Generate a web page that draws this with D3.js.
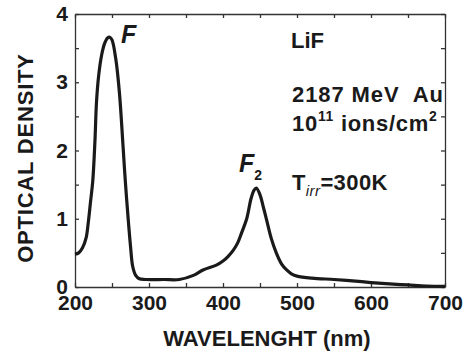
<!DOCTYPE html>
<html>
<head>
<meta charset="utf-8">
<script src="https://cdnjs.cloudflare.com/ajax/libs/d3/7.8.5/d3.min.js"></script>
<style>
  body { margin: 0; background: #fff; }
  text { font-family: "Liberation Sans", Arial, sans-serif; font-weight: bold; fill: #1a1a1a; }
</style>
</head>
<body>
<div id="chart"></div>
<script>
var width = 471;
var height = 356;

// absorption spectrum
var wavelength = [200, 205, 210, 215, 218, 221, 224, 227, 229, 232, 236, 240, 244, 247,
                  250, 255, 260, 265, 268, 272, 275, 278, 282, 287, 295, 320, 341,
                  360, 373, 391, 400, 407, 414, 420, 425, 432, 438, 442, 445, 450,
                  455, 459, 465, 472, 479, 486, 493, 500, 520, 550, 575, 600, 625,
                  650, 675, 700];
var density = [0.48, 0.50, 0.57, 0.72, 0.95, 1.25, 1.55, 2.15, 2.70, 3.10, 3.40, 3.57, 3.65, 3.66,
               3.62, 3.35, 2.85, 2.05, 1.55, 0.98, 0.60, 0.30, 0.17, 0.12, 0.11, 0.11, 0.11,
               0.17, 0.25, 0.32, 0.38, 0.45, 0.54, 0.65, 0.79, 1.00, 1.30, 1.42, 1.45, 1.35,
               1.15, 0.98, 0.72, 0.50, 0.34, 0.25, 0.19, 0.16, 0.13, 0.11, 0.09, 0.065, 0.045,
               0.03, 0.015, 0.01];

var xTicks = [200, 250, 300, 350, 400, 450, 500, 550, 600, 650, 700];
var yTicks = [0, 0.5, 1, 1.5, 2, 2.5, 3, 3.5, 4];

var plotLeft = 75, plotRight = 445, plotTop = 14, plotBottom = 287;

var xScale = d3.scaleLinear().domain([200, 700]).range([plotLeft, plotRight]);
var yScale = d3.scaleLinear().domain([0, 4]).range([plotBottom, plotTop]);

var svg = d3.select("#chart")
    .append("svg")
    .attr("width", width)
    .attr("height", height);

function styleAxis(g) {
    g.selectAll("path, line").attr("stroke", "#333").attr("stroke-width", 1.3);
    g.selectAll("text").attr("font-size", "21px").attr("fill", "#1a1a1a")
        .style("font-family", '"Liberation Sans", Arial, sans-serif').style("font-weight", "bold");
}

// bottom axis with labels at every 100 nm
svg.append("g")
    .attr("transform", "translate(0," + plotBottom + ")")
    .call(d3.axisBottom(xScale).tickValues(xTicks).tickSizeInner(-4).tickSizeOuter(0).tickPadding(8)
        .tickFormat(function(d) { return d % 100 === 0 ? d : ""; }))
    .call(styleAxis);

svg.append("g")
    .attr("transform", "translate(0," + plotTop + ")")
    .call(d3.axisTop(xScale).tickValues(xTicks).tickSizeInner(-4).tickSizeOuter(0).tickFormat(""))
    .call(styleAxis);

svg.append("g")
    .attr("transform", "translate(" + plotLeft + ",0)")
    .call(d3.axisLeft(yScale).tickValues(yTicks).tickSizeInner(-4).tickSizeOuter(0).tickPadding(7)
        .tickFormat(function(d) { return d % 1 === 0 ? d : ""; }))
    .call(styleAxis);

svg.append("g")
    .attr("transform", "translate(" + plotRight + ",0)")
    .call(d3.axisRight(yScale).tickValues(yTicks).tickSizeInner(-4).tickSizeOuter(0).tickFormat(""))
    .call(styleAxis);

// spectrum
var points = wavelength.map(function(w, i) { return [w, density[i]]; });
var line = d3.line()
    .x(function(d) { return xScale(d[0]); })
    .y(function(d) { return yScale(d[1]); })
    .curve(d3.curveCatmullRom.alpha(0.5));

svg.append("path")
    .datum(points)
    .attr("d", line)
    .attr("fill", "none")
    .attr("stroke", "#1a1a1a")
    .attr("stroke-width", 3.2)
    .attr("stroke-linejoin", "round");

// axis titles
svg.append("text")
    .attr("transform", "translate(33,158) rotate(-90)")
    .attr("text-anchor", "middle")
    .attr("font-size", "22px")
    .style("letter-spacing", "0.8px")
    .text("OPTICAL DENSITY");

svg.append("text")
    .attr("x", 267)
    .attr("y", 346)
    .attr("text-anchor", "middle")
    .attr("font-size", "22px")
    .text("WAVELENGHT (nm)");

// band labels
svg.append("text")
    .attr("x", 121)
    .attr("y", 43)
    .attr("font-size", "25px")
    .style("font-style", "italic")
    .text("F");

var f2 = svg.append("text")
    .attr("x", 239)
    .attr("y", 172)
    .attr("font-size", "25px")
    .style("font-style", "italic")
    .text("F");
f2.append("tspan").attr("font-size", "14px").style("font-style", "normal")
    .attr("dy", 8).text("2");

// sample info
svg.append("text").attr("x", 291).attr("y", 48).attr("font-size", "22px").text("LiF");
svg.append("text").attr("x", 292).attr("y", 102).attr("font-size", "22px")
    .style("letter-spacing", "0.9px").style("white-space", "pre").text("2187 MeV  Au");

var fl = svg.append("text").attr("x", 292).attr("y", 131).attr("font-size", "22px")
    .style("letter-spacing", "0.7px");
fl.append("tspan").text("10");
fl.append("tspan").attr("font-size", "14px").attr("dy", -10).text("11");
fl.append("tspan").attr("dy", 10).text(" ions/cm");
fl.append("tspan").attr("font-size", "14px").attr("dy", -10).text("2");

var tl = svg.append("text").attr("x", 292).attr("y", 190).attr("font-size", "22px")
    .style("letter-spacing", "0.4px");
tl.append("tspan").text("T");
tl.append("tspan").attr("font-size", "15px").style("font-style", "italic").style("font-weight", "normal")
    .attr("dy", 6).text("irr");
tl.append("tspan").attr("dy", -6).text("=300K");
</script>
</body>
</html>
